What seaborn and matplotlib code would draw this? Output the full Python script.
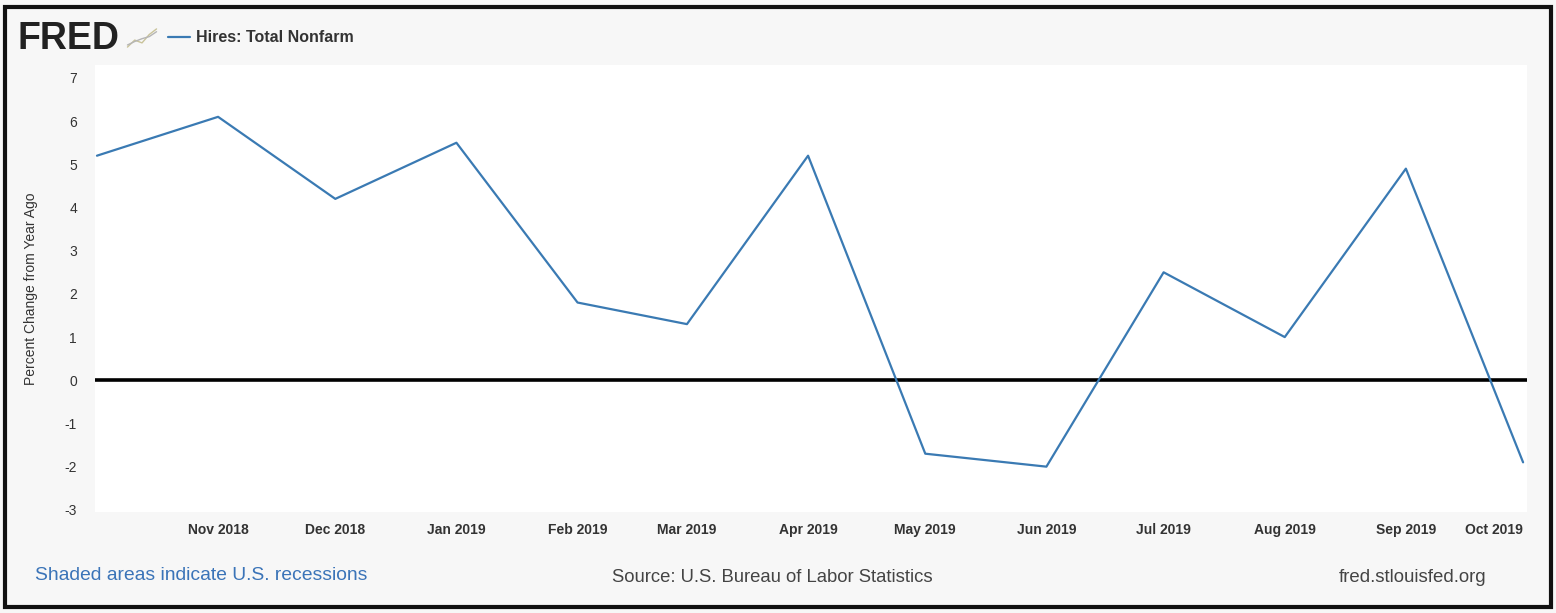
import matplotlib
matplotlib.use("Agg")
import matplotlib.pyplot as plt
import seaborn as sns
import pandas as pd
from matplotlib.patches import Rectangle

# ---- data ----
dates = ["2018-10-01", "2018-11-01", "2018-12-01", "2019-01-01", "2019-02-01",
         "2019-03-01", "2019-04-01", "2019-05-01", "2019-06-01", "2019-07-01",
         "2019-08-01", "2019-09-01", "2019-10-01"]
values = [5.2, 6.1, 4.2, 5.5, 1.8, 1.3, 5.2, -1.7, -2.0, 2.5, 1.0, 4.9, -1.9]
tick_dates = ["2018-11-01", "2018-12-01", "2019-01-01", "2019-02-01", "2019-03-01",
              "2019-04-01", "2019-05-01", "2019-06-01", "2019-07-01", "2019-08-01",
              "2019-09-01", "2019-10-01"]
tick_labels = ["Nov 2018", "Dec 2018", "Jan 2019", "Feb 2019", "Mar 2019", "Apr 2019",
               "May 2019", "Jun 2019", "Jul 2019", "Aug 2019", "Sep 2019", "Oct 2019"]
y_ticks = [-3, -2, -1, 0, 1, 2, 3, 4, 5, 6, 7]
series_name = "Hires: Total Nonfarm"
y_label = "Percent Change from Year Ago"

df = pd.DataFrame({"date": pd.to_datetime(dates), "value": values})

sns.set_style("white")
plt.rcParams["font.family"] = ["Liberation Sans", "DejaVu Sans"]

W, H = 1556, 613
fig = plt.figure(figsize=(W / 100, H / 100), dpi=100)
fig.patch.set_facecolor("#f7f7f7")

def px(x0, y0, x1, y1):
    return [x0 / W, 1 - y1 / H, (x1 - x0) / W, (y1 - y0) / H]

ax = fig.add_axes(px(95, 65, 1527, 512))
ax.set_facecolor("white")

line_color = "#3a7ab3"
sns.lineplot(data=df, x="date", y="value", ax=ax, color=line_color, linewidth=1.6)
ax.axhline(0, color="black", linewidth=2.6, zorder=1)

ax.set_xlim(df["date"].iloc[0] - pd.Timedelta(days=0.5), df["date"].iloc[-1] + pd.Timedelta(days=1))
ax.set_ylim(-3.05, 7.3)
ax.set_yticks(y_ticks)
ax.set_yticklabels([str(t) for t in y_ticks], fontsize=10, color="#333333")
ax.set_xticks(pd.to_datetime(tick_dates))
ax.set_xticklabels(tick_labels, fontsize=10, color="#333333", fontweight="bold",
                   va="baseline")
ax.get_xticklabels()[-1].set_ha("right")
ax.tick_params(axis="x", length=0, pad=16)
ax.tick_params(axis="y", length=0, pad=13)
ax.set_xlabel("")
ax.set_ylabel(y_label, fontsize=10, color="#333333", labelpad=19)
for s in ax.spines.values():
    s.set_visible(False)

# header: FRED logo + legend
fig.text(17 / W, 1 - 39 / H, "FRED", fontsize=27, fontweight="heavy", color="#222222",
         va="center", ha="left")
icon = fig.add_axes(px(126, 28, 158, 48))
icon.plot([0, 1, 2, 3, 4], [0, 1, 0.6, 1.8, 2.6], color="#c9c39a", lw=1)
icon.plot([0, 1, 2, 3, 4], [0.3, 0.8, 1.2, 1.5, 2.2], color="#b5b5b5", lw=1)
icon.axis("off")
fig.add_artist(plt.Line2D([168 / W, 190 / W], [1 - 37 / H, 1 - 37 / H],
                          color=line_color, lw=1.6))
fig.text(196 / W, 1 - 37 / H, series_name, fontsize=11.5, fontweight="bold",
         color="#333333", va="center", ha="left")

# footer
fig.text(35 / W, 1 - 576 / H, "Shaded areas indicate U.S. recessions", fontsize=13.9,
         color="#3b74b8", va="center", ha="left")
fig.text(772 / W, 1 - 577 / H, "Source: U.S. Bureau of Labor Statistics", fontsize=13.3,
         color="#444444", va="center", ha="center")
fig.text(1486 / W, 1 - 577 / H, "fred.stlouisfed.org", fontsize=13.4,
         color="#444444", va="center", ha="right")

# outer frame
fig.add_artist(Rectangle((5 / W, 1 - 607 / H), 1546 / W, 600 / H, transform=fig.transFigure,
                         fill=False, edgecolor="#111111", linewidth=3))

fig.savefig("out.png", dpi=100, facecolor=fig.get_facecolor())
